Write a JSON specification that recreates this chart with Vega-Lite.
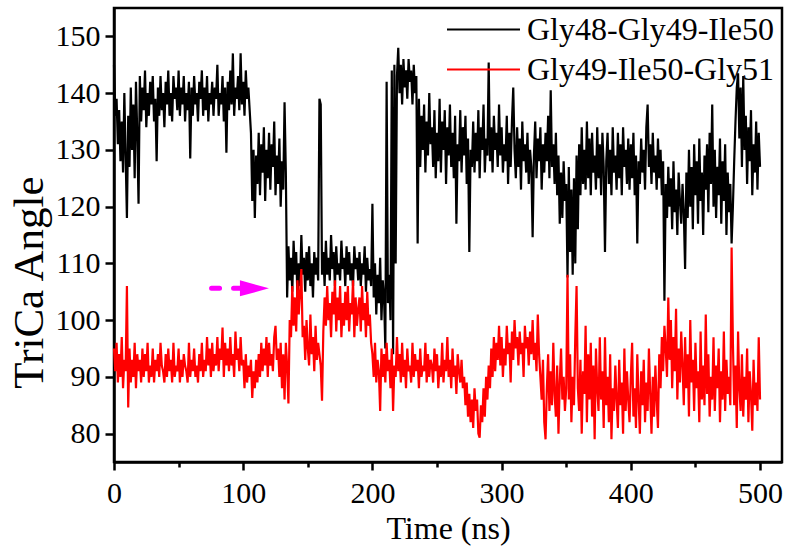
{
"$schema": "https://vega.github.io/schema/vega-lite/v6.json",
"width": 668, "height": 454,
"autosize": "none",
"padding": {"left": 114, "top": 8, "right": 8, "bottom": 87},
"background": "white",
"config": {
 "view": {"stroke": "black", "strokeWidth": 2.5},
 "font": "Liberation Serif",
 "axis": {"grid": false, "domainColor": "black", "domainWidth": 2.5, "tickColor": "black", "tickWidth": 2.5, "labelFont": "Liberation Serif", "labelFontSize": 30, "labelColor": "black", "titleFont": "Liberation Serif", "titleFontWeight": "normal", "titleColor": "black"}
},
"datasets": {
"main": [
{"t":0,"a":145,"b":95},{"t":1,"a":136,"b":91},{"t":2,"a":139,"b":96},{"t":3,"a":131,"b":89},{"t":4,"a":137,"b":94},{"t":5,"a":128,"b":90},{"t":6,"a":135,"b":97},{"t":7,"a":126,"b":88},{"t":8,"a":140,"b":93},{"t":9,"a":129,"b":91},
{"t":10,"a":118,"b":106},{"t":11,"a":136,"b":84.6},{"t":12,"a":127,"b":95},{"t":13,"a":141,"b":89},{"t":14,"a":130,"b":93},{"t":15,"a":138,"b":90},{"t":16,"a":125,"b":96},{"t":17,"a":142,"b":88},{"t":18,"a":133,"b":94},{"t":19,"a":120.5,"b":91},
{"t":20,"a":143,"b":93},{"t":21,"a":135,"b":89},{"t":22,"a":141,"b":95},{"t":23,"a":137,"b":90},{"t":24,"a":144,"b":94},{"t":25,"a":134,"b":91},{"t":26,"a":140,"b":96},{"t":27,"a":136,"b":89},{"t":28,"a":142,"b":92},{"t":29,"a":138,"b":90},
{"t":30,"a":143,"b":95},{"t":31,"a":135,"b":89},{"t":32,"a":139,"b":93},{"t":33,"a":128,"b":91},{"t":34,"a":141,"b":94},{"t":35,"a":136,"b":90},{"t":36,"a":143,"b":96},{"t":37,"a":137,"b":92},{"t":38,"a":140,"b":91},{"t":39,"a":134,"b":89},
{"t":40,"a":142,"b":94},{"t":41,"a":138,"b":90},{"t":42,"a":144,"b":95},{"t":43,"a":136,"b":91},{"t":44,"a":140,"b":93},{"t":45,"a":135,"b":89},{"t":46,"a":143,"b":96},{"t":47,"a":139,"b":90},{"t":48,"a":141,"b":92},{"t":49,"a":137,"b":91},
{"t":50,"a":144,"b":95},{"t":51,"a":136,"b":89},{"t":52,"a":141,"b":93},{"t":53,"a":138,"b":90},{"t":54,"a":143,"b":94},{"t":55,"a":135,"b":92},{"t":56,"a":140,"b":91},{"t":57,"a":137,"b":89},{"t":58,"a":142,"b":96},{"t":59,"a":128.5,"b":90},
{"t":60,"a":141,"b":93},{"t":61,"a":136,"b":91},{"t":62,"a":143,"b":95},{"t":63,"a":138,"b":90},{"t":64,"a":140,"b":92},{"t":65,"a":135,"b":89},{"t":66,"a":142,"b":94},{"t":67,"a":139,"b":91},{"t":68,"a":144,"b":96},{"t":69,"a":136,"b":90},
{"t":70,"a":141,"b":93},{"t":71,"a":137,"b":91},{"t":72,"a":143,"b":97},{"t":73,"a":135,"b":92},{"t":74,"a":140,"b":95},{"t":75,"a":138,"b":90},{"t":76,"a":142,"b":96},{"t":77,"a":136,"b":91},{"t":78,"a":141,"b":94},{"t":79,"a":139,"b":92},
{"t":80,"a":145,"b":97},{"t":81,"a":136,"b":91},{"t":82,"a":140,"b":95},{"t":83,"a":138,"b":93},{"t":84,"a":143,"b":98.7},{"t":85,"a":135,"b":90},{"t":86,"a":141,"b":96},{"t":87,"a":129.5,"b":92},{"t":88,"a":142,"b":95},{"t":89,"a":137,"b":91},
{"t":90,"a":144,"b":97},{"t":91,"a":138,"b":92},{"t":92,"a":147,"b":94},{"t":93,"a":136,"b":90},{"t":94,"a":141,"b":98},{"t":95,"a":139,"b":93},{"t":96,"a":143,"b":95},{"t":97,"a":137,"b":91},{"t":98,"a":147,"b":97},{"t":99,"a":138,"b":92},
{"t":100,"a":142,"b":93},{"t":101,"a":136,"b":88},{"t":102,"a":144,"b":94},{"t":103,"a":139,"b":89},{"t":104,"a":141,"b":92},{"t":105,"a":137,"b":90},{"t":106,"a":133,"b":93},{"t":107,"a":121,"b":86.3},{"t":108,"a":130,"b":91},{"t":109,"a":118,"b":88},
{"t":110,"a":129,"b":93},{"t":111,"a":124,"b":89},{"t":112,"a":133,"b":94},{"t":113,"a":122,"b":90},{"t":114,"a":131,"b":96},{"t":115,"a":126,"b":91},{"t":116,"a":134,"b":95},{"t":117,"a":121,"b":92},{"t":118,"a":130,"b":97},{"t":119,"a":125,"b":90},
{"t":120,"a":133,"b":96},{"t":121,"a":123,"b":92},{"t":122,"a":131,"b":94},{"t":123,"a":127,"b":91},{"t":124,"a":135,"b":97},{"t":125,"a":122,"b":99},{"t":126,"a":129,"b":93},{"t":127,"a":124,"b":95},{"t":128,"a":132,"b":90},{"t":129,"a":120,"b":96},
{"t":130,"a":128,"b":88},{"t":131,"a":123,"b":94},{"t":132,"a":138.4,"b":86},{"t":133,"a":126,"b":96},{"t":134,"a":104,"b":92},{"t":135,"a":113,"b":85.3},{"t":136,"a":107,"b":100},{"t":137,"a":111,"b":97},{"t":138,"a":105,"b":106},{"t":139,"a":114,"b":99},
{"t":140,"a":108,"b":104},{"t":141,"a":112,"b":98},{"t":142,"a":104,"b":107},{"t":143,"a":110,"b":101},{"t":144,"a":106,"b":105},{"t":145,"a":115,"b":109},{"t":146,"a":108,"b":97},{"t":147,"a":111,"b":99},{"t":148,"a":105,"b":93},{"t":149,"a":112,"b":100},
{"t":150,"a":107,"b":95},{"t":151,"a":113,"b":92},{"t":152,"a":106,"b":101},{"t":153,"a":110,"b":94},{"t":154,"a":104,"b":97},{"t":155,"a":112,"b":91},{"t":156,"a":108,"b":99},{"t":157,"a":111,"b":93},{"t":158,"a":107,"b":96},{"t":159,"a":139,"b":94},
{"t":160,"a":138,"b":92},{"t":161,"a":108,"b":85.8},{"t":162,"a":112,"b":98},{"t":163,"a":106,"b":104},{"t":164,"a":114,"b":99},{"t":165,"a":108,"b":106},{"t":166,"a":111,"b":100},{"t":167,"a":107,"b":103},{"t":168,"a":115,"b":97},{"t":169,"a":109,"b":105},
{"t":170,"a":112,"b":101},{"t":171,"a":106,"b":107},{"t":172,"a":113,"b":98},{"t":173,"a":108,"b":104},{"t":174,"a":110,"b":100},{"t":175,"a":107,"b":106},{"t":176,"a":114,"b":97},{"t":177,"a":109,"b":103},{"t":178,"a":111,"b":99},{"t":179,"a":106,"b":105},
{"t":180,"a":113,"b":100},{"t":181,"a":108,"b":106},{"t":182,"a":112,"b":98},{"t":183,"a":107,"b":103},{"t":184,"a":110,"b":101},{"t":185,"a":106,"b":107},{"t":186,"a":113,"b":97},{"t":187,"a":109,"b":104},{"t":188,"a":111,"b":99},{"t":189,"a":107,"b":102},
{"t":190,"a":112,"b":104},{"t":191,"a":106,"b":98},{"t":192,"a":110,"b":106},{"t":193,"a":108,"b":100},{"t":194,"a":113,"b":103},{"t":195,"a":105,"b":97},{"t":196,"a":111,"b":105},{"t":197,"a":107,"b":99},{"t":198,"a":109,"b":101},{"t":199,"a":106,"b":96},
{"t":200,"a":120.5,"b":94},{"t":201,"a":104,"b":90},{"t":202,"a":110,"b":96},{"t":203,"a":101,"b":89},{"t":204,"a":108,"b":93},{"t":205,"a":103,"b":91},{"t":206,"a":111,"b":84},{"t":207,"a":100,"b":95},{"t":208,"a":107,"b":90},{"t":209,"a":104,"b":94},
{"t":210,"a":95,"b":89},{"t":211,"a":142,"b":96},{"t":212,"a":103,"b":91},{"t":213,"a":108,"b":93},{"t":214,"a":100,"b":88},{"t":215,"a":144,"b":95},{"t":216,"a":94,"b":84},{"t":217,"a":145,"b":92},{"t":218,"a":110,"b":90},{"t":219,"a":143,"b":97},
{"t":220,"a":148,"b":91},{"t":221,"a":140,"b":94},{"t":222,"a":145,"b":89},{"t":223,"a":138,"b":96},{"t":224,"a":146,"b":90},{"t":225,"a":141,"b":93},{"t":226,"a":144,"b":88},{"t":227,"a":139,"b":95},{"t":228,"a":146,"b":91},{"t":229,"a":142,"b":92},
{"t":230,"a":144,"b":89},{"t":231,"a":138,"b":96},{"t":232,"a":145,"b":90},{"t":233,"a":140,"b":94},{"t":234,"a":143,"b":91},{"t":235,"a":113.5,"b":93},{"t":236,"a":139,"b":88},{"t":237,"a":127,"b":95},{"t":238,"a":136,"b":90},{"t":239,"a":130,"b":92},
{"t":240,"a":138,"b":91},{"t":241,"a":126,"b":96},{"t":242,"a":135,"b":89},{"t":243,"a":129,"b":94},{"t":244,"a":140,"b":90},{"t":245,"a":131,"b":93},{"t":246,"a":134,"b":92},{"t":247,"a":127,"b":89},{"t":248,"a":137,"b":95},{"t":249,"a":125,"b":91},
{"t":250,"a":133,"b":94},{"t":251,"a":128,"b":88},{"t":252,"a":139,"b":92},{"t":253,"a":126,"b":90},{"t":254,"a":135,"b":96},{"t":255,"a":130,"b":89},{"t":256,"a":137,"b":93},{"t":257,"a":124,"b":91},{"t":258,"a":134,"b":97},{"t":259,"a":129,"b":90},
{"t":260,"a":138,"b":93},{"t":261,"a":127,"b":88},{"t":262,"a":133,"b":95},{"t":263,"a":125,"b":90},{"t":264,"a":136,"b":92},{"t":265,"a":117,"b":87},{"t":266,"a":131,"b":94},{"t":267,"a":128,"b":91},{"t":268,"a":137,"b":89},{"t":269,"a":126,"b":93},
{"t":270,"a":134,"b":88},{"t":271,"a":129,"b":90},{"t":272,"a":136,"b":85},{"t":273,"a":124,"b":89},{"t":274,"a":132,"b":83},{"t":275,"a":112,"b":87},{"t":276,"a":130,"b":82},{"t":277,"a":127,"b":86},{"t":278,"a":135,"b":81},{"t":279,"a":126,"b":88},
{"t":280,"a":133,"b":84},{"t":281,"a":128,"b":86},{"t":282,"a":137,"b":80},{"t":283,"a":125,"b":79.3},{"t":284,"a":134,"b":85},{"t":285,"a":130,"b":82},{"t":286,"a":138,"b":88},{"t":287,"a":126,"b":83},{"t":288,"a":132,"b":90},{"t":289,"a":129,"b":86},
{"t":290,"a":145.4,"b":92},{"t":291,"a":128,"b":88},{"t":292,"a":134,"b":95},{"t":293,"a":126,"b":90},{"t":294,"a":136,"b":97},{"t":295,"a":130,"b":91},{"t":296,"a":133,"b":96},{"t":297,"a":127,"b":93},{"t":298,"a":138,"b":99},{"t":299,"a":129,"b":92},
{"t":300,"a":134,"b":97},{"t":301,"a":126,"b":90},{"t":302,"a":131,"b":95},{"t":303,"a":128,"b":92},{"t":304,"a":136,"b":99},{"t":305,"a":124,"b":94},{"t":306,"a":133,"b":96},{"t":307,"a":127,"b":89},{"t":308,"a":135,"b":98},{"t":309,"a":141,"b":93},
{"t":310,"a":130,"b":100},{"t":311,"a":125,"b":95},{"t":312,"a":134,"b":97},{"t":313,"a":127,"b":92},{"t":314,"a":132,"b":98},{"t":315,"a":123,"b":94},{"t":316,"a":135,"b":96},{"t":317,"a":128,"b":90},{"t":318,"a":131,"b":99},{"t":319,"a":126,"b":95},
{"t":320,"a":133,"b":97},{"t":321,"a":124,"b":92},{"t":322,"a":130,"b":98},{"t":323,"a":127,"b":94},{"t":324,"a":114.6,"b":100},{"t":325,"a":129,"b":93},{"t":326,"a":135,"b":96},{"t":327,"a":125,"b":91},{"t":328,"a":132,"b":101},{"t":329,"a":128,"b":94},
{"t":330,"a":134,"b":90},{"t":331,"a":123,"b":86},{"t":332,"a":131,"b":93},{"t":333,"a":126,"b":82},{"t":334,"a":133,"b":79},{"t":335,"a":128,"b":88},{"t":336,"a":136,"b":94},{"t":337,"a":125,"b":84},{"t":338,"a":140.5,"b":91},{"t":339,"a":127,"b":85},
{"t":340,"a":131,"b":96},{"t":341,"a":124,"b":87},{"t":342,"a":133,"b":83},{"t":343,"a":122,"b":92},{"t":344,"a":129,"b":80},{"t":345,"a":117,"b":89},{"t":346,"a":126,"b":95},{"t":347,"a":118,"b":86},{"t":348,"a":128,"b":90},{"t":349,"a":121,"b":84},
{"t":350,"a":124,"b":88},{"t":351,"a":107.5,"b":108},{"t":352,"a":127,"b":86},{"t":353,"a":112,"b":94},{"t":354,"a":123,"b":82},{"t":355,"a":108,"b":90},{"t":356,"a":125,"b":85},{"t":357,"a":110,"b":97},{"t":358,"a":129,"b":106},{"t":359,"a":116,"b":88},
{"t":360,"a":131,"b":84},{"t":361,"a":122,"b":93},{"t":362,"a":134,"b":80},{"t":363,"a":124,"b":91},{"t":364,"a":130,"b":87},{"t":365,"a":123,"b":99},{"t":366,"a":135,"b":82},{"t":367,"a":125,"b":94},{"t":368,"a":132,"b":86},{"t":369,"a":122,"b":96},
{"t":370,"a":133,"b":83},{"t":371,"a":126,"b":92},{"t":372,"a":129,"b":79},{"t":373,"a":123,"b":95},{"t":374,"a":134,"b":88},{"t":375,"a":125,"b":84},{"t":376,"a":131,"b":97},{"t":377,"a":122,"b":86},{"t":378,"a":133,"b":91},{"t":379,"a":127,"b":81},
{"t":380,"a":112,"b":97},{"t":381,"a":128,"b":85},{"t":382,"a":133,"b":90},{"t":383,"a":124,"b":82},{"t":384,"a":130,"b":94},{"t":385,"a":122,"b":79},{"t":386,"a":134,"b":88},{"t":387,"a":126,"b":84},{"t":388,"a":129,"b":92},{"t":389,"a":123,"b":86},
{"t":390,"a":133,"b":81},{"t":391,"a":125,"b":93},{"t":392,"a":131,"b":85},{"t":393,"a":122,"b":89},{"t":394,"a":134,"b":80},{"t":395,"a":127,"b":95},{"t":396,"a":130,"b":84},{"t":397,"a":124,"b":91},{"t":398,"a":132,"b":86},{"t":399,"a":123,"b":82},
{"t":400,"a":131,"b":90},{"t":401,"a":125,"b":96},{"t":402,"a":133,"b":83},{"t":403,"a":122,"b":88},{"t":404,"a":129,"b":81},{"t":405,"a":113.5,"b":94},{"t":406,"a":128,"b":86},{"t":407,"a":124,"b":80},{"t":408,"a":132,"b":91},{"t":409,"a":126,"b":85},
{"t":410,"a":130,"b":93},{"t":411,"a":123,"b":82},{"t":412,"a":134,"b":89},{"t":413,"a":138,"b":84},{"t":414,"a":127,"b":95},{"t":415,"a":131,"b":87},{"t":416,"a":124,"b":80},{"t":417,"a":133,"b":90},{"t":418,"a":126,"b":83},{"t":419,"a":129,"b":92},
{"t":420,"a":123,"b":86},{"t":421,"a":132,"b":81},{"t":422,"a":125,"b":94},{"t":423,"a":130,"b":88},{"t":424,"a":122,"b":97},{"t":425,"a":128,"b":91},{"t":426,"a":103.4,"b":99},{"t":427,"a":124,"b":95},{"t":428,"a":118,"b":90},{"t":429,"a":127,"b":104},
{"t":430,"a":120,"b":93},{"t":431,"a":125,"b":100},{"t":432,"a":116,"b":88},{"t":433,"a":128,"b":97},{"t":434,"a":119,"b":91},{"t":435,"a":123,"b":102},{"t":436,"a":115,"b":86},{"t":437,"a":126,"b":95},{"t":438,"a":121,"b":89},{"t":439,"a":117,"b":98},
{"t":440,"a":124,"b":92},{"t":441,"a":119,"b":85},{"t":442,"a":109,"b":97},{"t":443,"a":126,"b":88},{"t":444,"a":118,"b":94},{"t":445,"a":130,"b":83},{"t":446,"a":120,"b":100},{"t":447,"a":127,"b":89},{"t":448,"a":116,"b":93},{"t":449,"a":131,"b":84},
{"t":450,"a":122,"b":96},{"t":451,"a":128,"b":88},{"t":452,"a":117,"b":91},{"t":453,"a":132,"b":82},{"t":454,"a":121,"b":98},{"t":455,"a":126,"b":86},{"t":456,"a":115,"b":92},{"t":457,"a":129,"b":85},{"t":458,"a":123,"b":101},{"t":459,"a":131,"b":87},
{"t":460,"a":119,"b":94},{"t":461,"a":133,"b":83},{"t":462,"a":124,"b":90},{"t":463,"a":138,"b":86},{"t":464,"a":120,"b":97},{"t":465,"a":130,"b":84},{"t":466,"a":118,"b":92},{"t":467,"a":127,"b":88},{"t":468,"a":122,"b":95},{"t":469,"a":132,"b":82},
{"t":470,"a":117,"b":91},{"t":471,"a":128,"b":86},{"t":472,"a":121,"b":98},{"t":473,"a":131,"b":84},{"t":474,"a":115,"b":93},{"t":475,"a":126,"b":87},{"t":476,"a":119,"b":90},{"t":477,"a":124,"b":85},{"t":478,"a":113.5,"b":112.8},{"t":479,"a":120,"b":96},
{"t":480,"a":128,"b":85},{"t":481,"a":135,"b":92},{"t":482,"a":141,"b":81},{"t":483,"a":143.5,"b":98},{"t":484,"a":132,"b":88},{"t":485,"a":141,"b":84},{"t":486,"a":127,"b":94},{"t":487,"a":143,"b":83},{"t":488,"a":130,"b":90},{"t":489,"a":136,"b":86},
{"t":490,"a":124,"b":95},{"t":491,"a":134,"b":82},{"t":492,"a":128,"b":91},{"t":493,"a":137,"b":87},{"t":494,"a":122,"b":80.5},{"t":495,"a":131,"b":93},{"t":496,"a":126,"b":85},{"t":497,"a":135,"b":89},{"t":498,"a":123,"b":84},{"t":499,"a":133,"b":97},
{"t":500,"a":127,"b":86}
],
"dash": [{"t": 75.5, "v": 105.6}, {"t": 97.5, "v": 105.6}],
"head": [{"t": 108.7, "v": 105.6}]
},
"layer": [
 {
  "data": {"name": "main"},
  "transform": [{"fold": ["a", "b"], "as": ["key", "v"]}],
  "mark": {"type": "line", "strokeWidth": 2.2},
  "encoding": {
   "x": {"field": "t", "type": "quantitative", "scale": {"domain": [0, 517], "nice": false, "zero": false},
         "axis": {"orient": "bottom", "values": [0, 50, 100, 150, 200, 250, 300, 350, 400, 450, 500], "labelExpr": "datum.value % 100 == 0 ? datum.label : ''", "tickSize": {"condition": {"test": "datum.value % 100 == 0", "value": 8}, "value": 5}, "title": "Time (ns)", "titleFontSize": 32, "titleY": 76, "titleBaseline": "alphabetic", "labelPadding": 8, "labelFlush": false, "labelOverlap": false}},
   "y": {"field": "v", "type": "quantitative", "scale": {"domain": [75, 155], "nice": false, "zero": false},
         "axis": {"orient": "left", "values": [80, 85, 90, 95, 100, 105, 110, 115, 120, 125, 130, 135, 140, 145, 150], "labelExpr": "datum.value % 10 == 0 ? datum.label : ''", "tickSize": 9, "tickDash": {"condition": {"test": "datum.value % 10 == 0", "value": []}, "value": [5, 30]}, "title": "TriCa Angle", "titleFontSize": 43, "titleX": -72, "titleY": 274, "titleBaseline": "alphabetic", "titleAngle": -90, "labelPadding": 5, "labelOverlap": false}},
   "color": {"field": "key", "type": "nominal", "scale": {"domain": ["a", "b"], "range": ["black", "red"]},
     "legend": {"title": null, "orient": "none", "legendX": 350, "legendY": 2, "labelExpr": "datum.label == 'a' ? 'Gly48-Gly49-Ile50' : 'Gly49-Ile50-Gly51'", "labelFontSize": 32, "labelFont": "Liberation Serif", "labelColor": "black", "symbolType": "M-2,0L2,0", "symbolSize": 1332, "symbolStrokeWidth": 2, "labelOffset": 24, "rowPadding": 4, "labelLimit": 400}}
  }
 },
 {
  "data": {"name": "dash"},
  "mark": {"type": "line", "color": "#ff00ff", "strokeWidth": 5, "strokeDash": [8, 14], "strokeCap": "round"},
  "encoding": {
   "x": {"field": "t", "type": "quantitative"},
   "y": {"field": "v", "type": "quantitative"}
  }
 },
 {
  "data": {"name": "head"},
  "mark": {"type": "point", "shape": "M-1,-0.55L1,0L-1,0.55Z", "size": 841, "filled": true, "color": "#ff00ff", "opacity": 1},
  "encoding": {
   "x": {"field": "t", "type": "quantitative"},
   "y": {"field": "v", "type": "quantitative"}
  }
 }
]
}
